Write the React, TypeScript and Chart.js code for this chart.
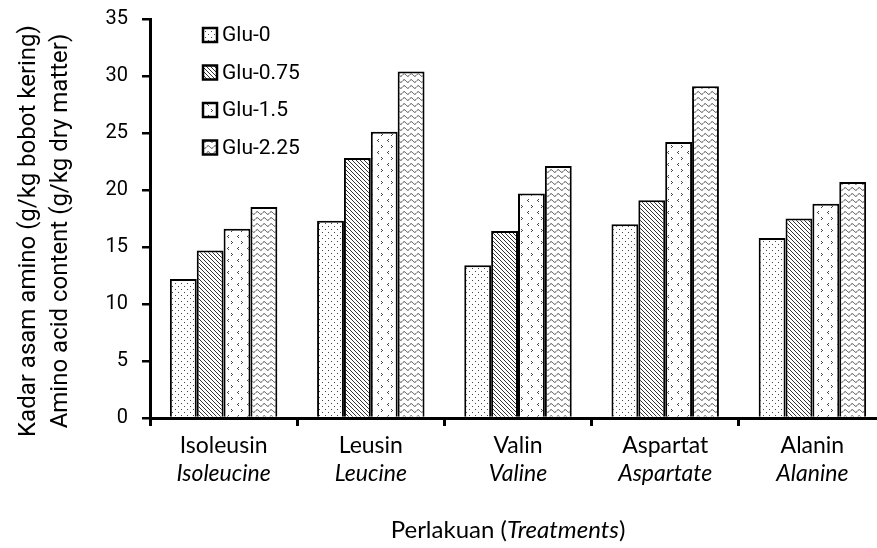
import React, { useEffect, useRef } from 'react';
import { Chart, registerables } from 'chart.js';

Chart.register(...registerables);

const categories = ['Isoleusin', 'Leusin', 'Valin', 'Aspartat', 'Alanin'];
const categoriesEn = ['Isoleucine', 'Leucine', 'Valine', 'Aspartate', 'Alanine'];
const seriesNames = ['Glu-0', 'Glu-0.75', 'Glu-1.5', 'Glu-2.25'];
const glu0 = [12.2, 17.3, 13.4, 17.0, 15.8];
const glu075 = [14.7, 22.8, 16.4, 19.1, 17.5];
const glu15 = [16.6, 25.1, 19.7, 24.2, 18.8];
const glu225 = [18.5, 30.4, 22.1, 29.1, 20.7];
const yMin = 0;
const yMax = 35;
const yStep = 5;
const yTitleLines = ['Kadar asam amino (g/kg bobot kering)', 'Amino acid content (g/kg dry matter)'];
const xTitleParts = [
  { text: 'Perlakuan (', italic: false },
  { text: 'Treatments', italic: true },
  { text: ')', italic: false },
];

function tile(w: number, h: number, draw: (c: CanvasRenderingContext2D) => void): CanvasPattern {
  const cv = document.createElement('canvas');
  cv.width = w;
  cv.height = h;
  const c = cv.getContext('2d')!;
  c.fillStyle = '#fff';
  c.fillRect(0, 0, w, h);
  draw(c);
  return c.createPattern(cv, 'repeat')!;
}

function makePatterns(): CanvasPattern[] {
  const dots = tile(6, 6, (c) => {
    c.fillStyle = '#444';
    c.fillRect(1, 1, 1, 1);
    c.fillRect(4, 4, 1, 1);
  });
  const diag = tile(4, 4, (c) => {
    c.strokeStyle = '#333';
    c.lineWidth = 1;
    c.beginPath();
    c.moveTo(-1, -1); c.lineTo(5, 5);
    c.moveTo(-1, 3); c.lineTo(1, 5);
    c.moveTo(3, -1); c.lineTo(5, 1);
    c.stroke();
  });
  const chev = tile(10, 12, (c) => {
    c.fillStyle = '#444';
    c.fillRect(1, 1, 1, 1); c.fillRect(2, 2, 1, 1); c.fillRect(1, 3, 1, 1);
    c.fillRect(8, 7, 1, 1); c.fillRect(7, 8, 1, 1); c.fillRect(8, 9, 1, 1);
  });
  const wave = tile(7, 6, (c) => {
    c.strokeStyle = '#444';
    c.lineWidth = 1;
    c.beginPath();
    for (let i = -1; i <= 8; i += 0.5) {
      const y = 3 + 1.3 * Math.sin((2 * Math.PI * i) / 7);
      if (i === -1) c.moveTo(i, y); else c.lineTo(i, y);
    }
    c.stroke();
  });
  return [dots, diag, chev, wave];
}

export default function App() {
  const ref = useRef<HTMLCanvasElement>(null);

  useEffect(() => {
    const canvas = ref.current;
    if (!canvas) return;
    const pats = makePatterns();
    const seriesData = [glu0, glu075, glu15, glu225];

    const overlay = {
      id: 'overlay',
      afterDraw(chart: any) {
        const { ctx, chartArea, scales } = chart;
        const xs = scales.x;
        ctx.save();
        ctx.fillStyle = '#000';
        ctx.textAlign = 'center';
        ctx.textBaseline = 'alphabetic';
        categories.forEach((c, i) => {
          const px = xs.getPixelForValue(i);
          ctx.font = '23px Lato';
          ctx.fillText(c, px, chartArea.bottom + 35);
          ctx.font = 'italic 23px Lato';
          ctx.fillText(categoriesEn[i], px, chartArea.bottom + 63);
        });
        // x title
        let total = 0;
        const widths = xTitleParts.map((p) => {
          ctx.font = (p.italic ? 'italic ' : '') + '24px Lato';
          const w = ctx.measureText(p.text).width;
          total += w;
          return w;
        });
        let tx = chartArea.left + 358 - total / 2;
        ctx.textAlign = 'left';
        xTitleParts.forEach((p, i) => {
          ctx.font = (p.italic ? 'italic ' : '') + '24px Lato';
          ctx.fillText(p.text, tx, chartArea.bottom + 120);
          tx += widths[i];
        });
        // y title
        ctx.textAlign = 'center';
        ctx.font = '24px Roboto';
        const yc = 231;
        yTitleLines.forEach((t, i) => {
          ctx.save();
          ctx.translate(35 + i * 32, yc);
          ctx.rotate(-Math.PI / 2);
          ctx.fillText(t, 0, 0);
          ctx.restore();
        });
        // legend
        ctx.textAlign = 'left';
        ctx.textBaseline = 'middle';
        ctx.font = '21px Roboto';
        seriesNames.forEach((n, i) => {
          const bx = chartArea.left + 53;
          const cy = chartArea.top + 16 + i * 37.5;
          ctx.fillStyle = pats[i];
          ctx.fillRect(bx, cy - 7, 14, 14);
          ctx.lineWidth = 2.5;
          ctx.strokeStyle = '#000';
          ctx.strokeRect(bx, cy - 7, 14, 14);
          ctx.fillStyle = '#000';
          ctx.fillText(n, bx + 19, cy + 1);
        });
        ctx.restore();
      },
    };

    const chart = new Chart(canvas, {
      type: 'bar',
      data: {
        labels: categories,
        datasets: seriesNames.map((n, i) => ({
          label: n,
          data: seriesData[i],
          backgroundColor: pats[i],
          borderColor: '#000',
          borderWidth: 2,
          categoryPercentage: 0.73,
          barPercentage: 1,
        })),
      },
      options: {
        animation: false,
        responsive: true,
        maintainAspectRatio: false,
        layout: { padding: { top: 19, right: 14, bottom: 0, left: 0 } },
        plugins: {
          legend: { display: false },
          tooltip: { enabled: false },
        },
        scales: {
          x: {
            type: 'category',
            offset: true,
            grid: {
              display: true,
              offset: true,
              drawOnChartArea: false,
              drawTicks: true,
              tickLength: 8,
              lineWidth: 3,
              color: '#000',
            },
            border: { display: true, color: '#000', width: 3 },
            ticks: { display: false },
            afterFit: (s: any) => { s.height = 130; },
          },
          y: {
            min: yMin,
            max: yMax,
            ticks: {
              stepSize: yStep,
              color: '#000',
              font: { family: 'Roboto', size: 20 },
              padding: 14,
            },
            grid: {
              drawOnChartArea: false,
              tickLength: 8,
              lineWidth: 2.5,
              color: '#000',
            },
            border: { display: true, color: '#000', width: 3 },
            afterFit: (s: any) => {
              s.width = 150;
              s.paddingTop = 0;
              s.paddingBottom = 0;
            },
          },
        },
      },
      plugins: [overlay],
    });
    return () => chart.destroy();
  }, []);

  return (
    <div style={{ position: 'absolute', left: 0, top: 0, width: 877, height: 548, overflow: 'hidden', background: '#fff' }}>
      <div style={{ position: 'relative', width: 900, height: 548 }}>
        <canvas ref={ref} />
      </div>
    </div>
  );
}
